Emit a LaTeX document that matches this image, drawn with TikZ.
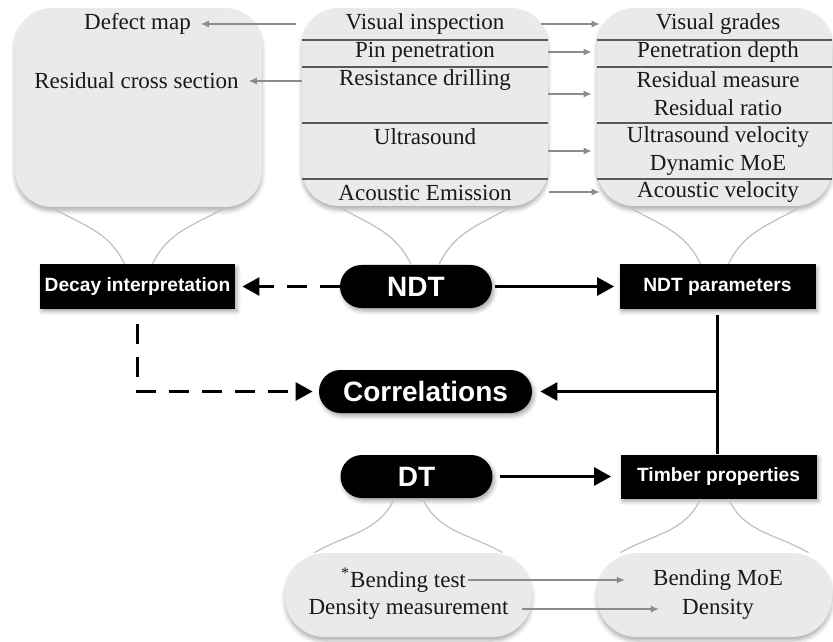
\documentclass[tikz,border=0pt]{standalone}
\usepackage{fontspec}
\setmainfont{Liberation Serif}
\newfontfamily\labelfont{Liberation Sans}
\usetikzlibrary{arrows.meta,shadows.blur}
\definecolor{bubblegray}{RGB}{234,234,234}

\begin{document}
\begin{tikzpicture}[
    x=0.5pt, y=0.5pt,
    >=Latex,
    bubble/.style={rectangle,fill=bubblegray,rounded corners=18.5pt,inner sep=0pt,
        blur shadow={shadow xshift=0pt,shadow yshift=-2pt,shadow blur radius=2pt,shadow opacity=30}},
    item/.style={font=\fontsize{11.5}{14}\selectfont,align=center,text=black!90},
    darkbox/.style={rectangle,fill=black,text=white,inner sep=0pt,
        minimum width=98pt,minimum height=22pt,
        font=\labelfont\bfseries\fontsize{9.6}{11}\selectfont,
        blur shadow={shadow xshift=1pt,shadow yshift=-1.5pt,shadow blur radius=2pt,shadow opacity=35}},
    pill/.style={darkbox,rounded corners=10.75pt,minimum width=76pt,minimum height=21.5pt,
        font=\labelfont\bfseries\fontsize{14}{16}\selectfont},
    sepline/.style={draw=black!65,line width=0.75pt},
    tail/.style={draw=black!25,line width=0.6pt},
    graylink/.style={draw=black!45,line width=0.6pt,-{Latex[length=4pt,width=3.5pt]}},
    flow/.style={draw,line width=1.4pt,-{Triangle[length=8.5pt,width=9pt]}},
    dashflow/.style={flow,dash pattern=on 10pt off 6.5pt}
]
\useasboundingbox (0,0) rectangle (833,-641);

% bubbles
\node[bubble,minimum width=123.5pt,minimum height=99.5pt] (leftbub) at (138.5,-107.5) {};
\node[bubble,minimum width=123pt,minimum height=99pt] (midbub) at (425,-107) {};
\node[bubble,minimum width=117.5pt,minimum height=99pt] (rightbub) at (714.5,-107) {};
\node[bubble,rounded corners=20pt,minimum width=123.5pt,minimum height=42pt] (dtbub) at (408.5,-595) {};
\node[bubble,rounded corners=20pt,minimum width=117.5pt,minimum height=42pt] (propbub) at (714.5,-595) {};

\foreach \y in {40,67,123,179} {
    \draw[sepline] (midbub.west |- 0,-\y) -- (midbub.east |- 0,-\y);
    \draw[sepline] (rightbub.west |- 0,-\y) -- (rightbub.east |- 0,-\y);
}

% bubble texts
\node[item] (defect) at (137.5,-24) {Defect map};
\node[item] (crosssec) at (136.5,-81) {Residual cross section};
\node[item] (visinsp) at (425,-24) {Visual inspection};
\node[item] (pinpen) at (425,-52) {Pin penetration};
\node[item] (resdrill) at (425,-80) {Resistance drilling};
\node[item] (ultra) at (425,-137) {Ultrasound};
\node[item] (acoustic) at (425,-193) {Acoustic Emission};
\node[item] (grades) at (718,-24) {Visual grades};
\node[item] (pendepth) at (718,-52) {Penetration depth};
\node[item] (resid) at (718,-94) {Residual measure\\Residual ratio};
\node[item] (ultravel) at (718,-151) {Ultrasound velocity\\Dynamic MoE};
\node[item] (acvel) at (718,-192) {Acoustic velocity};

\draw[graylink,shorten <=3pt,shorten >=1.5pt] (defect -| midbub.west) -- (defect.east);
\draw[graylink,shorten >=1.5pt] (crosssec -| midbub.west) -- (crosssec.east);
\draw[graylink] ([xshift=-3.5pt]visinsp -| midbub.east) -- ([xshift=1.5pt]grades -| rightbub.west);
\draw[graylink,shorten >=2.5pt] (pinpen -| midbub.east) -- (pendepth -| rightbub.west);
\draw[graylink,shorten >=2.5pt] (resid -| midbub.east) -- (resid -| rightbub.west);
\draw[graylink,shorten >=2.5pt] (ultravel -| midbub.east) -- (ultravel -| rightbub.west);
\draw[graylink,shorten <=0.5pt] (acvel -| midbub.east) -- ([xshift=1.5pt]acvel -| rightbub.west);

% black boxes
\node[darkbox,minimum width=97.5pt] (decay) at (137.5,-286.5) {Decay interpretation};
\node[pill] (ndt) at (416,-286.5) {NDT};
\node[darkbox] (ndtpar) at (717.5,-286.5) {NDT parameters};
\node[pill,minimum width=106.5pt] (corr) at (425.5,-391.5) {Correlations};
\node[pill] (dt) at (416.5,-476.5) {DT};
\node[darkbox] (timber) at (718.5,-476.5) {Timber properties};

\foreach \bub/\nd in {leftbub/decay, midbub/ndt, rightbub/ndtpar} {
    \draw[tail] ([xshift=-43.5pt]\bub.south) to[out=-30,in=115] ([xshift=-7pt]\bub.south |- \nd.north);
    \draw[tail] ([xshift=43.5pt]\bub.south) to[out=-150,in=65] ([xshift=7pt]\bub.south |- \nd.north);
}
\foreach \bub/\nd in {dtbub/dt, propbub/timber} {
    \draw[tail] ([xshift=-47pt]\bub.north) to[out=30,in=-115] ([xshift=-7pt]\bub.north |- \nd.south);
    \draw[tail] ([xshift=47pt]\bub.north) to[out=150,in=-65] ([xshift=7pt]\bub.north |- \nd.south);
}

\draw[dashflow,shorten >=3.5pt] (ndt) -- (decay);
\draw[flow,shorten <=1.5pt,shorten >=2.5pt] (ndt) -- (ndtpar);
\draw[dashflow,shorten >=3pt] ([yshift=-7.5pt]decay.south) |- (corr);
\draw[line width=1.4pt] ([yshift=-3pt]ndtpar.south) -- (ndtpar.south |- timber.north);
\draw[flow,shorten >=4pt] (ndtpar.south |- corr) -- (corr);
\draw[flow,shorten <=3.5pt,shorten >=4.5pt] (dt) -- (timber);

% bottom bubble texts
\node[item,inner sep=1pt] (bendtest) at (403.5,-580) {\textsuperscript{*}Bending test};
\node[item,inner sep=1pt] (densmeas) at (408.5,-609) {Density measurement};
\node[item,inner sep=1pt] (bendmoe) at (718,-580) {Bending MoE};
\node[item,inner sep=1pt] (density) at (718,-609) {Density};

\draw[graylink] (bendtest.east) -- ([xshift=-13pt]bendmoe.west);
\draw[graylink] ([xshift=5.5pt]densmeas.east) -- ([xshift=-10.5pt]density.west);
\end{tikzpicture}
\end{document}
